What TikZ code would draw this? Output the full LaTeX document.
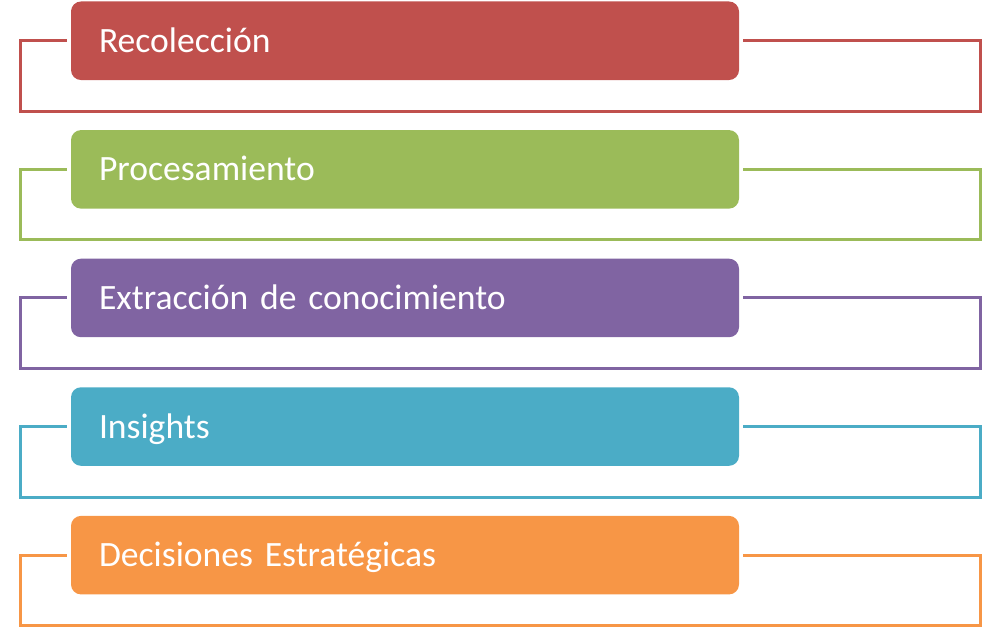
\documentclass[tikz,border=0pt]{standalone}
\usepackage{fontspec}
\setmainfont{Carlito}
\usepackage{xcolor}
\usetikzlibrary{positioning}

\definecolor{recol}{HTML}{C0504D}
\definecolor{proc}{HTML}{9BBB59}
\definecolor{extr}{HTML}{8064A2}
\definecolor{insi}{HTML}{4BACC6}
\definecolor{deci}{HTML}{F79646}

\tikzset{
	stage/.style={rounded corners=7.5pt, text=white, text width=459pt, align=left,
		inner xsep=21pt, minimum height=58.9pt, text height=17.3pt, text depth=0pt,
		font=\fontsize{26.7}{30}\selectfont},
	frame/.style={line width=2.25pt, line join=miter}
}

\begin{document}
\begin{tikzpicture}[x=0.75pt,y=-0.75pt]
		\useasboundingbox (0,0) rectangle (985,631);

		\node[stage, fill=recol] (rec) at (405,40.75) {Recolección};
		\node[stage, fill=proc] (proc) at (405,169.35) {Procesamiento};
		\node[stage, fill=extr] (extr) at (405,297.95) {Extracción de conocimiento};
		\node[stage, fill=insi] (insi) at (405,426.55) {Insights};
		\node[stage, fill=deci] (deci) at (405,555.15) {Decisiones Estratégicas};
		%
		\draw[frame, recol] ([xshift=-3pt]rec.west) -- ++(-46.5,0) -- ++(0,70.5)
			-- ++(960.5,0) -- ++(0,-70.5) -- ++(-238,0);
		\draw[frame, proc] ([xshift=-3pt]proc.west) -- ++(-46.5,0) -- ++(0,70.5)
			-- ++(960.5,0) -- ++(0,-70.5) -- ++(-238,0);
		\draw[frame, extr] ([xshift=-3pt]extr.west) -- ++(-46.5,0) -- ++(0,70.5)
			-- ++(960.5,0) -- ++(0,-70.5) -- ++(-238,0);
		\draw[frame, insi] ([xshift=-3pt]insi.west) -- ++(-46.5,0) -- ++(0,70.5)
			-- ++(960.5,0) -- ++(0,-70.5) -- ++(-238,0);
		\draw[frame, deci] ([xshift=-3pt]deci.west) -- ++(-46.5,0) -- ++(0,70.5)
			-- ++(960.5,0) -- ++(0,-70.5) -- ++(-238,0);
\end{tikzpicture}
\end{document}
